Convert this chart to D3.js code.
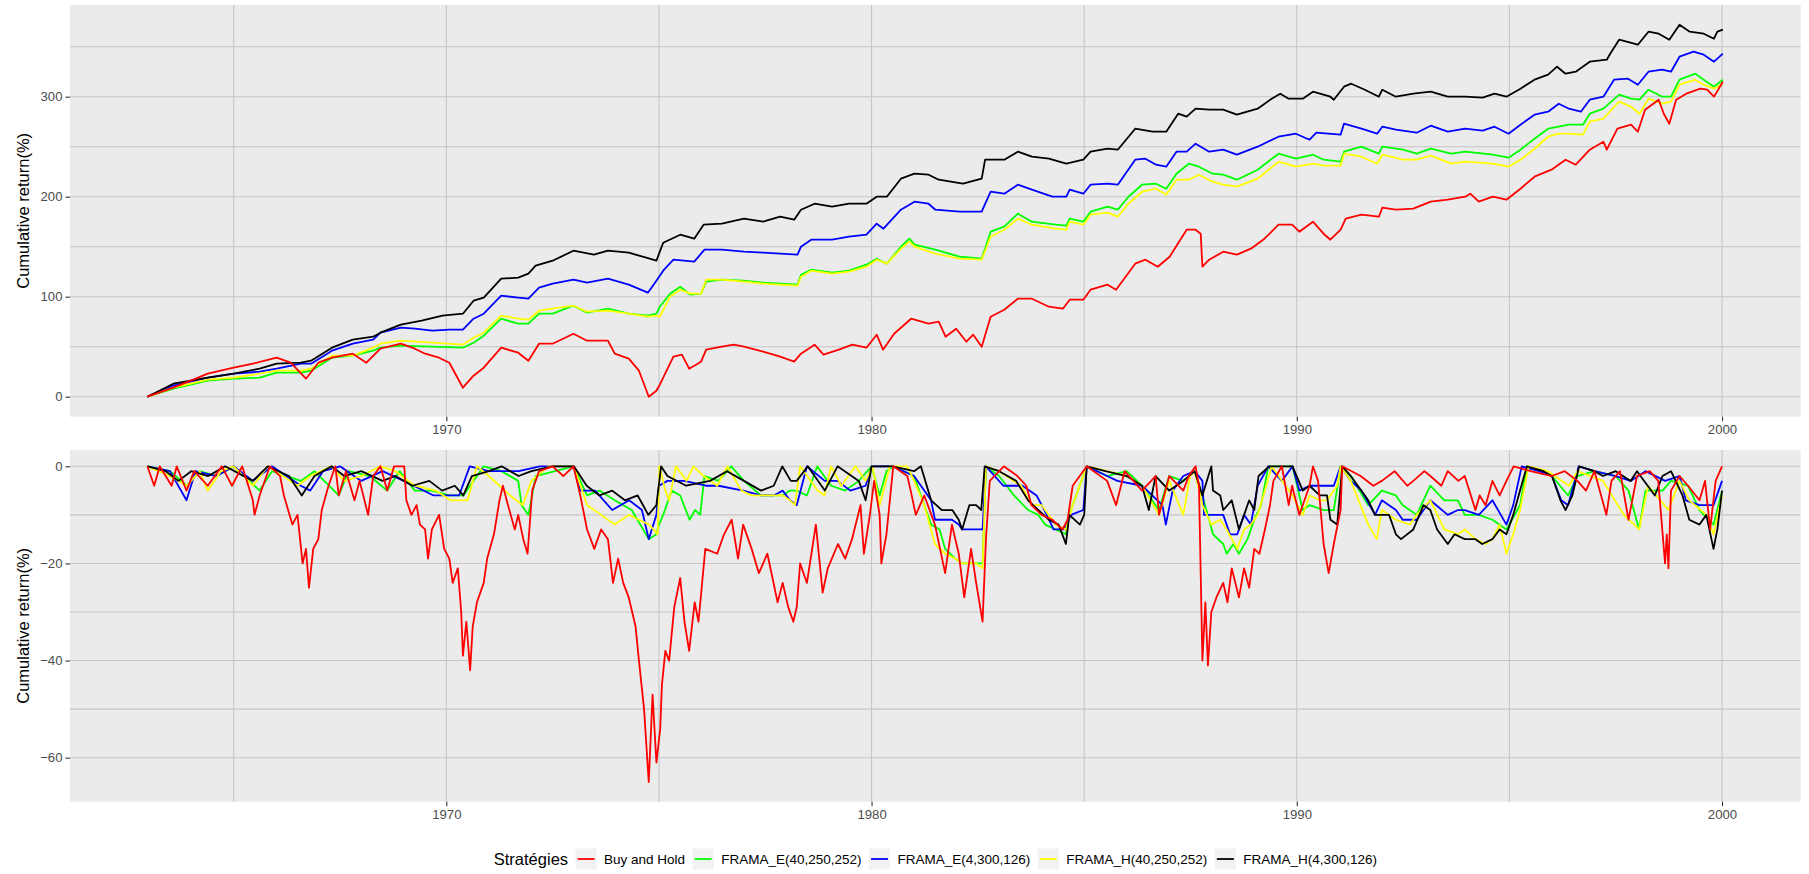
<!DOCTYPE html>
<html>
<head>
<meta charset="utf-8">
<script src="https://cdn.jsdelivr.net/npm/d3@7"></script>
<style>
body { margin: 0; background: #fff; }
svg { display: block; font-family: "Liberation Sans", Arial, Helvetica, sans-serif; }
</style>
</head>
<body>
<script>
// strategies, in legend order
var strategies = ["Buy and Hold", "FRAMA_E(40,250,252)", "FRAMA_E(4,300,126)", "FRAMA_H(40,250,252)", "FRAMA_H(4,300,126)"];
var colors = ["#ff0000", "#00ff00", "#0000ff", "#ffff00", "#000000"];

// axis ticks
var yearMajor = [1970, 1980, 1990, 2000];
var yearMinor = [1965, 1975, 1985, 1995];
var cumMajor = [0, 100, 200, 300];
var cumMinor = [50, 150, 250, 350];
var ddMajor = [-60, -40, -20, 0];
var ddMinor = [-50, -30, -10];

// cumulative return (%), [year, value]
var cumBH = [[1962.97,0],[1963.58,9],[1963.99,16],[1964.39,23],[1965.0,29],[1965.45,33],[1966.01,39],[1966.34,34],[1966.7,18],[1966.99,34],[1967.31,39],[1967.8,43],[1968.12,34],[1968.45,48],[1968.93,53],[1969.26,48],[1969.5,43],[1969.83,39],[1970.07,34],[1970.39,9],[1970.64,21],[1970.88,29],[1971.29,49],[1971.69,44],[1971.93,36],[1972.18,53],[1972.5,53],[1972.99,63],[1973.31,56],[1973.8,56],[1973.96,43],[1974.29,38],[1974.53,26],[1974.76,0],[1974.94,6],[1975.02,12],[1975.34,40],[1975.54,42],[1975.71,28],[1975.99,35],[1976.11,47],[1976.48,50],[1976.76,52],[1977.0,50],[1977.45,45],[1977.85,40],[1978.18,35],[1978.34,43],[1978.66,52],[1978.87,42],[1979.23,47],[1979.55,52],[1979.88,49],[1980.12,62],[1980.27,47],[1980.53,63],[1980.93,78],[1981.34,73],[1981.58,75],[1981.74,60],[1981.99,68],[1982.23,55],[1982.39,62],[1982.59,50],[1982.8,80],[1983.12,87],[1983.44,98],[1983.77,98],[1984.17,90],[1984.5,88],[1984.66,97],[1984.98,97],[1985.15,107],[1985.55,112],[1985.75,107],[1986.2,133],[1986.44,137],[1986.73,130],[1987.01,140],[1987.41,167],[1987.62,167],[1987.74,163],[1987.78,130],[1987.94,137],[1988.27,145],[1988.59,142],[1988.92,148],[1989.24,158],[1989.57,172],[1989.89,172],[1990.06,165],[1990.38,175],[1990.63,163],[1990.79,157],[1991.03,167],[1991.15,178],[1991.52,182],[1991.93,180],[1992.01,189],[1992.33,187],[1992.74,188],[1993.15,195],[1993.55,197],[1993.96,200],[1994.08,203],[1994.28,195],[1994.61,200],[1994.93,197],[1995.26,208],[1995.59,220],[1995.99,227],[1996.32,237],[1996.56,232],[1996.89,247],[1997.21,255],[1997.29,247],[1997.54,268],[1997.86,272],[1998.02,265],[1998.19,287],[1998.51,297],[1998.63,283],[1998.76,273],[1998.92,297],[1999.16,303],[1999.49,308],[1999.65,307],[1999.81,300],[2000.02,315]];
var cumE40 = [[1962.97,0],[1963.58,8],[1964.39,16],[1965.0,18],[1965.61,19],[1966.01,24],[1966.58,24],[1966.82,26],[1967.31,39],[1967.8,41],[1968.28,46],[1968.45,49],[1968.93,51],[1969.67,50],[1970.39,49],[1970.64,54],[1970.88,61],[1971.29,78],[1971.69,73],[1971.93,73],[1972.18,83],[1972.5,83],[1972.99,91],[1973.31,84],[1973.8,88],[1974.29,83],[1974.74,81],[1974.94,83],[1975.02,90],[1975.26,103],[1975.5,110],[1975.74,102],[1975.99,103],[1976.11,115],[1976.48,117],[1977.0,116],[1977.45,114],[1978.26,112],[1978.34,122],[1978.58,127],[1979.07,124],[1979.47,126],[1979.88,132],[1980.12,138],[1980.36,133],[1980.69,150],[1980.89,158],[1981.01,152],[1981.5,147],[1982.07,140],[1982.59,138],[1982.8,165],[1983.12,170],[1983.44,183],[1983.77,175],[1984.33,172],[1984.58,171],[1984.66,178],[1984.98,175],[1985.15,185],[1985.55,190],[1985.79,187],[1986.04,200],[1986.36,212],[1986.69,213],[1986.93,208],[1987.17,223],[1987.46,233],[1987.7,230],[1988.02,223],[1988.27,222],[1988.59,217],[1989.08,227],[1989.57,243],[1989.98,238],[1990.38,242],[1990.63,237],[1991.03,235],[1991.11,245],[1991.52,250],[1991.93,243],[1992.01,250],[1992.5,247],[1992.82,243],[1993.15,248],[1993.63,243],[1993.96,245],[1994.61,242],[1994.98,239],[1995.26,247],[1995.59,258],[1995.91,268],[1996.16,270],[1996.4,272],[1996.73,272],[1996.89,283],[1997.21,288],[1997.58,302],[1997.86,298],[1998.06,297],[1998.27,307],[1998.59,300],[1998.8,300],[1999.0,317],[1999.37,323],[1999.57,317],[1999.81,310],[2000.02,317]];
var cumE4 = [[1962.97,0],[1963.58,11],[1964.39,19],[1965.0,23],[1965.61,25],[1966.01,28],[1966.58,33],[1966.82,33],[1967.31,46],[1967.8,53],[1968.28,57],[1968.45,64],[1968.93,69],[1969.26,68],[1969.67,66],[1970.07,67],[1970.39,67],[1970.64,78],[1970.88,83],[1971.29,101],[1971.69,99],[1971.93,98],[1972.18,109],[1972.5,113],[1972.99,117],[1973.31,114],[1973.8,118],[1974.29,112],[1974.74,104],[1974.94,116],[1975.1,126],[1975.34,137],[1975.83,135],[1976.07,147],[1976.48,147],[1977.0,145],[1977.45,144],[1977.85,143],[1978.26,142],[1978.34,150],[1978.58,157],[1979.07,157],[1979.47,160],[1979.88,162],[1980.12,173],[1980.28,168],[1980.69,187],[1981.01,195],[1981.34,193],[1981.5,187],[1982.07,185],[1982.59,185],[1982.8,205],[1983.12,203],[1983.44,212],[1983.77,207],[1984.25,200],[1984.58,200],[1984.66,207],[1984.98,203],[1985.15,212],[1985.55,213],[1985.79,212],[1986.2,237],[1986.44,238],[1986.69,232],[1986.93,230],[1987.17,245],[1987.41,245],[1987.62,253],[1987.94,245],[1988.27,247],[1988.59,242],[1989.08,250],[1989.57,260],[1989.98,263],[1990.3,257],[1990.46,264],[1991.03,262],[1991.11,273],[1991.52,268],[1991.89,263],[1992.01,270],[1992.33,267],[1992.82,264],[1993.15,271],[1993.55,265],[1993.96,268],[1994.37,266],[1994.65,270],[1994.98,263],[1995.26,272],[1995.59,282],[1995.91,285],[1996.16,293],[1996.4,288],[1996.68,285],[1996.89,297],[1997.21,300],[1997.46,317],[1997.79,318],[1998.02,312],[1998.27,325],[1998.59,327],[1998.8,325],[1999.0,340],[1999.33,345],[1999.57,342],[1999.81,335],[2000.02,343]];
var cumH40 = [[1962.97,0],[1963.58,9],[1964.39,17],[1965.0,19],[1965.61,23],[1966.01,26],[1966.58,26],[1966.82,28],[1967.31,41],[1967.8,41],[1968.28,49],[1968.45,53],[1968.93,56],[1969.67,54],[1970.39,52],[1970.64,59],[1970.88,64],[1971.29,81],[1971.69,78],[1971.93,77],[1972.18,86],[1972.5,88],[1972.99,91],[1973.31,85],[1973.8,86],[1974.29,83],[1974.74,80],[1974.94,81],[1975.02,80],[1975.26,100],[1975.5,107],[1975.74,103],[1975.99,103],[1976.11,117],[1976.48,117],[1977.0,115],[1977.45,113],[1978.26,111],[1978.34,120],[1978.58,126],[1979.07,123],[1979.47,125],[1979.88,130],[1980.12,137],[1980.36,133],[1980.69,148],[1980.89,155],[1981.01,150],[1981.5,143],[1982.07,138],[1982.59,137],[1982.8,160],[1983.12,167],[1983.44,178],[1983.77,172],[1984.33,168],[1984.58,167],[1984.66,175],[1984.98,172],[1985.15,182],[1985.55,184],[1985.79,180],[1986.04,193],[1986.36,205],[1986.69,208],[1986.93,202],[1987.17,217],[1987.46,217],[1987.7,222],[1988.02,215],[1988.27,212],[1988.59,210],[1989.08,218],[1989.57,235],[1989.98,230],[1990.38,233],[1990.63,231],[1991.03,231],[1991.11,243],[1991.52,240],[1991.89,233],[1992.01,242],[1992.5,237],[1992.82,237],[1993.15,241],[1993.63,233],[1993.96,235],[1994.61,233],[1994.98,230],[1995.26,237],[1995.59,248],[1995.91,260],[1996.16,263],[1996.4,263],[1996.73,262],[1996.89,275],[1997.21,278],[1997.58,295],[1997.86,290],[1998.06,283],[1998.27,298],[1998.59,293],[1998.8,295],[1999.0,312],[1999.37,317],[1999.57,312],[1999.81,308],[2000.02,313]];
var cumH4 = [[1962.97,0],[1963.58,13],[1964.39,19],[1965.0,23],[1965.61,28],[1966.01,33],[1966.58,34],[1966.82,36],[1967.31,49],[1967.8,57],[1968.28,60],[1968.45,64],[1968.93,72],[1969.42,76],[1969.91,81],[1970.39,83],[1970.64,96],[1970.88,99],[1971.29,118],[1971.69,119],[1971.93,123],[1972.1,131],[1972.5,136],[1972.99,146],[1973.47,142],[1973.8,146],[1974.29,144],[1974.7,139],[1974.94,136],[1975.1,154],[1975.5,162],[1975.83,158],[1976.05,172],[1976.48,173],[1977.0,178],[1977.45,175],[1977.85,180],[1978.18,177],[1978.34,187],[1978.66,193],[1979.07,190],[1979.47,193],[1979.88,193],[1980.12,200],[1980.36,200],[1980.69,218],[1981.01,223],[1981.34,222],[1981.58,217],[1982.15,213],[1982.59,218],[1982.67,237],[1983.12,237],[1983.44,245],[1983.77,240],[1984.17,238],[1984.58,233],[1984.98,237],[1985.15,245],[1985.55,248],[1985.79,247],[1986.2,268],[1986.61,265],[1986.93,265],[1987.21,283],[1987.41,280],[1987.62,288],[1987.94,287],[1988.27,287],[1988.59,282],[1989.08,288],[1989.41,298],[1989.61,303],[1989.81,298],[1990.14,298],[1990.38,305],[1990.79,300],[1990.87,297],[1991.11,310],[1991.28,313],[1991.6,307],[1991.93,300],[1992.01,307],[1992.33,300],[1992.74,303],[1993.15,305],[1993.55,300],[1993.96,300],[1994.37,299],[1994.65,303],[1994.93,300],[1995.26,308],[1995.59,317],[1995.91,322],[1996.12,330],[1996.32,323],[1996.56,325],[1996.89,335],[1997.29,337],[1997.37,343],[1997.58,357],[1998.02,352],[1998.27,365],[1998.51,363],[1998.76,357],[1999.0,372],[1999.24,365],[1999.57,363],[1999.81,358],[1999.89,365],[2000.02,367]];

// drawdown (%), [year, value]
var ddBH = [[1962.97,0],[1963.13,-4],[1963.26,0],[1963.54,-4],[1963.66,0],[1963.89,-5],[1964.07,-1],[1964.39,-4],[1964.72,0],[1964.96,-4],[1965.2,0],[1965.45,-7],[1965.49,-10],[1965.61,-6],[1965.85,0],[1966.09,-2],[1966.18,-6],[1966.38,-12],[1966.5,-10],[1966.62,-20],[1966.7,-17],[1966.77,-25],[1966.87,-17],[1966.99,-15],[1967.07,-9],[1967.23,-4],[1967.39,0],[1967.47,-6],[1967.64,-1],[1967.84,-7],[1967.96,-3],[1968.16,-10],[1968.28,-2],[1968.45,0],[1968.61,-5],[1968.77,0],[1969.01,0],[1969.06,-7],[1969.18,-10],[1969.3,-8],[1969.38,-12],[1969.5,-13],[1969.57,-19],[1969.66,-13],[1969.83,-10],[1969.95,-17],[1970.07,-19],[1970.15,-24],[1970.27,-21],[1970.35,-30],[1970.39,-39],[1970.47,-32],[1970.56,-42],[1970.62,-33],[1970.72,-28],[1970.88,-24],[1970.96,-19],[1971.12,-14],[1971.25,-7],[1971.33,-4],[1971.45,-8],[1971.61,-13],[1971.69,-10],[1971.81,-15],[1971.91,-18],[1972.02,-5],[1972.18,-1],[1972.5,0],[1972.75,-2],[1972.99,0],[1973.15,-6],[1973.31,-13],[1973.48,-17],[1973.64,-13],[1973.8,-15],[1973.92,-24],[1974.04,-19],[1974.16,-24],[1974.29,-27],[1974.45,-33],[1974.53,-40],[1974.65,-50],[1974.76,-65],[1974.85,-47],[1974.94,-61],[1975.03,-54],[1975.07,-45],[1975.15,-38],[1975.24,-40],[1975.36,-29],[1975.5,-23],[1975.6,-32],[1975.71,-38],[1975.84,-28],[1975.93,-32],[1976.09,-17],[1976.37,-18],[1976.53,-14],[1976.71,-11],[1976.86,-19],[1976.98,-12],[1977.18,-17],[1977.35,-22],[1977.55,-18],[1977.79,-28],[1977.91,-24],[1978.04,-29],[1978.16,-32],[1978.24,-29],[1978.32,-20],[1978.48,-24],[1978.69,-12],[1978.85,-26],[1978.97,-21],[1979.21,-16],[1979.38,-19],[1979.54,-15],[1979.74,-8],[1979.82,-18],[1979.96,-10],[1980.06,-3],[1980.19,-10],[1980.23,-20],[1980.35,-14],[1980.51,0],[1980.84,-2],[1980.92,-5],[1981.04,-10],[1981.24,-6],[1981.49,-12],[1981.73,-22],[1981.89,-12],[1982.05,-18],[1982.18,-27],[1982.34,-17],[1982.46,-24],[1982.61,-32],[1982.69,-15],[1982.78,-3],[1983.11,0],[1983.43,-2],[1983.64,-4],[1983.76,-8],[1984.0,-10],[1984.25,-11],[1984.49,-13],[1984.61,-11],[1984.73,-4],[1985.06,0],[1985.54,-3],[1985.75,-8],[1985.95,-1],[1986.36,-5],[1986.68,-2],[1986.76,-10],[1987.0,-2],[1987.33,-5],[1987.46,-2],[1987.62,0],[1987.7,-4],[1987.78,-40],[1987.85,-28],[1987.91,-41],[1987.99,-30],[1988.11,-27],[1988.27,-24],[1988.37,-28],[1988.47,-21],[1988.64,-27],[1988.76,-21],[1988.88,-25],[1989.0,-17],[1989.12,-18],[1989.25,-13],[1989.37,-8],[1989.45,-3],[1989.65,0],[1989.81,-8],[1989.89,-4],[1990.06,-10],[1990.3,-4],[1990.38,0],[1990.5,-3],[1990.63,-16],[1990.75,-22],[1990.87,-16],[1991.03,-9],[1991.07,0],[1991.5,-2],[1991.8,-4],[1992.0,-3],[1992.3,-1],[1992.6,-4],[1992.74,-3],[1993.0,-1],[1993.14,-2],[1993.4,-4],[1993.55,-1],[1993.8,-3],[1993.95,-2],[1994.2,-9],[1994.3,-6],[1994.44,-8],[1994.6,-3],[1994.77,-6],[1994.93,-3],[1995.1,0],[1995.5,-1],[1996.0,-2],[1996.3,-1],[1996.6,-3],[1996.8,-5],[1997.0,-1],[1997.28,-10],[1997.4,-3],[1997.6,-1],[1997.8,-11],[1998.0,-2],[1998.3,-1],[1998.5,-3],[1998.66,-20],[1998.7,-14],[1998.74,-21],[1998.8,-5],[1999.0,-2],[1999.2,-4],[1999.47,-7],[1999.6,-3],[1999.72,-13],[1999.85,-3],[2000.0,0]];
var ddE40 = [[1962.97,0],[1963.5,-1],[1963.9,-4],[1964.2,-1],[1964.6,-2],[1965.0,0],[1965.61,-5],[1965.9,-1],[1966.58,-3],[1966.9,-1],[1967.47,-6],[1967.7,-1],[1968.2,-2],[1968.61,-5],[1968.9,-1],[1969.26,-5],[1969.66,-5],[1970.07,-6],[1970.4,-6],[1970.88,0],[1971.3,-1],[1971.69,-3],[1971.77,-8],[1971.93,-10],[1972.1,-2],[1972.99,0],[1973.31,-6],[1973.6,-5],[1973.96,-7],[1974.36,-9],[1974.76,-15],[1974.94,-14],[1975.0,-12],[1975.1,-10],[1975.3,-5],[1975.5,-6],[1975.72,-11],[1975.85,-9],[1975.97,-10],[1976.07,-2],[1976.4,-3],[1976.7,0],[1977.0,-3],[1977.4,-6],[1977.91,-6],[1978.08,-5],[1978.24,-5],[1978.48,-6],[1978.72,0],[1979.05,-4],[1979.38,-5],[1979.7,-3],[1980.0,0],[1980.19,-6],[1980.35,-1],[1980.51,0],[1981.0,-2],[1981.4,-12],[1981.6,-13],[1981.73,-17],[1981.97,-19],[1982.13,-20],[1982.46,-20],[1982.61,-20],[1982.69,0],[1983.0,-2],[1983.35,-6],[1983.68,-9],[1983.92,-10],[1984.08,-12],[1984.33,-13],[1984.57,-14],[1984.65,-10],[1984.73,-8],[1985.06,0],[1985.54,-2],[1986.0,-1],[1986.36,-4],[1986.76,-9],[1987.0,-2],[1987.33,-3],[1987.6,-1],[1987.78,-6],[1988.03,-14],[1988.27,-16],[1988.35,-18],[1988.51,-16],[1988.64,-18],[1988.84,-15],[1989.0,-11],[1989.16,-8],[1989.33,0],[1989.9,0],[1990.14,-9],[1990.3,-8],[1990.63,-9],[1990.87,-9],[1991.03,0],[1991.27,-2],[1991.68,-8],[1992.0,-5],[1992.33,-6],[1992.49,-8],[1992.82,-10],[1993.14,-4],[1993.47,-7],[1993.79,-7],[1993.95,-10],[1994.28,-10],[1994.6,-11],[1994.93,-13],[1995.25,-8],[1995.41,0],[1995.8,-1],[1996.0,-2],[1996.38,-6],[1996.6,-2],[1997.0,-1],[1997.5,-2],[1997.8,-5],[1998.05,-13],[1998.2,-5],[1998.6,-5],[1998.8,-3],[1999.2,-4],[1999.47,-9],[1999.8,-12],[2000.0,-5]];
var ddE4 = [[1962.97,0],[1963.5,-1],[1963.89,-7],[1964.1,-1],[1964.6,-2],[1965.0,0],[1965.45,-3],[1965.9,0],[1966.58,-4],[1966.8,-5],[1967.1,-1],[1967.5,0],[1968.0,-3],[1968.5,-1],[1969.0,-3],[1969.7,-6],[1970.3,-6],[1970.55,0],[1971.0,-1],[1971.7,-1],[1972.2,0],[1973.0,0],[1973.15,-5],[1973.5,-5],[1973.9,-9],[1974.3,-7],[1974.6,-9],[1974.76,-15],[1974.94,-10],[1975.0,-4],[1975.2,-3],[1975.6,-3],[1976.1,-4],[1976.4,-4],[1976.98,-5],[1977.4,-6],[1977.7,-6],[1977.91,-5],[1978.08,-7],[1978.24,-8],[1978.48,0],[1978.9,-3],[1979.2,-3],[1979.5,-5],[1979.86,-4],[1980.0,0],[1980.5,0],[1981.0,-2],[1981.4,-7],[1981.49,-11],[1981.89,-11],[1982.05,-12],[1982.13,-13],[1982.3,-13],[1982.46,-13],[1982.61,-13],[1982.69,0],[1983.1,-4],[1983.55,-4],[1983.88,-6],[1984.12,-10],[1984.28,-13],[1984.53,-13],[1984.69,-10],[1984.98,-9],[1985.06,0],[1985.54,-2],[1985.78,-3],[1986.36,-4],[1986.84,-8],[1986.92,-12],[1987.08,-5],[1987.33,-2],[1987.6,-1],[1987.78,-3],[1987.82,-10],[1987.94,-10],[1988.11,-10],[1988.27,-10],[1988.43,-14],[1988.6,-14],[1988.76,-10],[1988.92,-12],[1989.08,-4],[1989.33,0],[1989.65,-3],[1989.9,0],[1990.06,-5],[1990.3,-4],[1990.63,-4],[1990.87,-4],[1991.03,0],[1991.27,-3],[1991.52,-5],[1991.84,-10],[1992.0,-7],[1992.33,-9],[1992.49,-11],[1992.82,-11],[1993.14,-7],[1993.55,-10],[1993.79,-9],[1993.95,-9],[1994.28,-10],[1994.6,-7],[1994.93,-12],[1995.09,-8],[1995.29,0],[1995.7,-1],[1996.0,-2],[1996.22,-7],[1996.38,-8],[1996.63,0],[1997.0,-1],[1997.5,-2],[1997.85,-3],[1998.2,-1],[1998.66,-3],[1999.0,-2],[1999.15,-7],[1999.47,-8],[1999.8,-8],[2000.0,-3]];
var ddH40 = [[1962.97,0],[1963.5,-2],[1963.9,-4],[1964.2,-1],[1964.39,-5],[1964.7,-1],[1965.0,0],[1965.45,-4],[1965.8,0],[1966.5,-4],[1966.8,-2],[1967.3,0],[1967.6,-3],[1968.0,-2],[1968.45,0],[1968.8,-1],[1969.26,-4],[1969.75,-5],[1970.1,-7],[1970.5,-7],[1970.72,0],[1971.0,-2],[1971.25,-4],[1971.5,-6],[1971.8,-8],[1972.0,-3],[1972.4,0],[1973.0,0],[1973.31,-8],[1973.64,-10],[1973.96,-12],[1974.29,-10],[1974.53,-11],[1974.77,-12],[1974.97,-14],[1975.01,0],[1975.15,-5],[1975.24,-7],[1975.4,0],[1975.65,-3],[1975.81,0],[1976.05,-2],[1976.37,-4],[1976.61,0],[1976.94,-5],[1977.18,-6],[1977.43,-6],[1977.75,-6],[1977.91,-6],[1978.08,-7],[1978.2,-8],[1978.32,0],[1978.57,-3],[1978.73,-5],[1978.89,-6],[1979.05,0],[1979.29,-4],[1979.62,0],[1979.86,-3],[1980.02,0],[1980.19,-8],[1980.43,0],[1980.84,0],[1981.0,-3],[1981.24,-8],[1981.49,-16],[1981.73,-18],[1981.97,-19],[1982.13,-20],[1982.46,-20],[1982.61,-21],[1982.69,0],[1983.0,-1],[1983.52,-4],[1983.76,-8],[1984.0,-8],[1984.33,-12],[1984.57,-13],[1984.73,-8],[1985.06,0],[1985.54,-1],[1986.0,-2],[1986.36,-4],[1986.76,-10],[1987.0,-3],[1987.33,-10],[1987.49,-2],[1987.6,-1],[1987.78,-8],[1987.99,-12],[1988.2,-11],[1988.35,-13],[1988.6,-17],[1988.76,-13],[1988.92,-12],[1989.08,-10],[1989.25,-5],[1989.41,0],[1989.9,-6],[1990.14,-10],[1990.3,-6],[1990.54,-7],[1990.71,-7],[1990.95,-4],[1991.03,0],[1991.27,-3],[1991.68,-12],[1991.88,-15],[1992.0,-9],[1992.33,-11],[1992.66,-12],[1992.82,-10],[1993.14,-7],[1993.47,-13],[1993.79,-14],[1993.95,-13],[1994.2,-15],[1994.44,-16],[1994.6,-15],[1994.77,-12],[1994.93,-18],[1995.09,-14],[1995.25,-9],[1995.45,0],[1995.9,-1],[1996.4,-4],[1996.6,-1],[1997.2,-3],[1997.69,-10],[1998.05,-13],[1998.26,-4],[1998.74,-9],[1999.0,-3],[1999.23,-7],[1999.63,-10],[1999.8,-14],[2000.0,-6]];
var ddH4 = [[1962.97,0],[1963.4,-1],[1963.7,-3],[1964.0,-1],[1964.4,-2],[1964.8,0],[1965.45,-3],[1965.8,0],[1966.3,-2],[1966.6,-6],[1966.9,-2],[1967.3,0],[1967.6,-2],[1968.0,-1],[1968.5,-3],[1968.8,-2],[1969.2,-4],[1969.6,-3],[1969.9,-5],[1970.2,-4],[1970.4,-6],[1970.6,-2],[1971.0,-1],[1971.3,0],[1971.7,-2],[1972.0,-1],[1972.5,0],[1973.0,0],[1973.3,-4],[1973.6,-6],[1973.9,-5],[1974.2,-7],[1974.5,-6],[1974.75,-10],[1974.94,-8],[1975.05,0],[1975.2,-2],[1975.64,-4],[1976.2,-3],[1976.6,-1],[1977.0,-3],[1977.4,-5],[1977.7,-4],[1977.9,0],[1978.1,-3],[1978.24,-3],[1978.5,0],[1978.9,-5],[1979.2,0],[1979.7,-3],[1979.86,-7],[1980.0,0],[1980.5,0],[1981.0,-1],[1981.16,0],[1981.4,-7],[1981.65,-9],[1981.9,-9],[1982.05,-11],[1982.13,-13],[1982.3,-8],[1982.46,-8],[1982.58,-9],[1982.66,0],[1983.0,-1],[1983.4,-3],[1983.68,-7],[1983.92,-9],[1984.17,-11],[1984.4,-12],[1984.57,-16],[1984.65,-10],[1984.9,-12],[1985.0,-10],[1985.06,0],[1985.5,-1],[1986.0,-2],[1986.36,-4],[1986.52,-9],[1986.68,-2],[1987.0,-5],[1987.33,-3],[1987.6,-1],[1987.78,-6],[1987.99,0],[1988.03,-5],[1988.2,-6],[1988.27,-9],[1988.47,-7],[1988.64,-13],[1988.76,-10],[1988.88,-7],[1989.0,-9],[1989.1,-2],[1989.35,0],[1989.9,0],[1990.14,-5],[1990.3,-4],[1990.54,-6],[1990.71,-6],[1990.79,-11],[1990.95,-12],[1991.07,0],[1991.27,-2],[1991.68,-7],[1991.84,-10],[1992.17,-10],[1992.33,-14],[1992.45,-15],[1992.74,-13],[1992.98,-8],[1993.14,-9],[1993.3,-13],[1993.55,-16],[1993.71,-14],[1993.95,-15],[1994.2,-15],[1994.36,-16],[1994.6,-15],[1994.77,-13],[1994.93,-14],[1995.09,-10],[1995.25,-5],[1995.41,0],[1995.8,-1],[1996.0,-2],[1996.2,-7],[1996.32,-9],[1996.48,-6],[1996.64,0],[1997.0,-1],[1997.2,-2],[1997.5,-1],[1997.85,-3],[1998.0,-1],[1998.42,-6],[1998.6,-2],[1998.8,-1],[1999.07,-6],[1999.23,-11],[1999.47,-12],[1999.63,-10],[1999.8,-17],[1999.89,-13],[2000.0,-5]];

var cumSeries = [cumBH, cumE40, cumE4, cumH40, cumH4];
var ddSeries = [ddBH, ddE40, ddE4, ddH40, ddH4];

// drawing order: red ends up on top
var drawOrder = [1, 2, 3, 4, 0];

window.onload = function() {
	makeChart();
};

function makeChart() {
	var width = 1809, height = 874;
	var left = 70, right = 1800.7;

	var svg = d3.select("body").append("svg")
		.attr("width", width)
		.attr("height", height);

	var x = d3.scaleLinear().domain([1961.15, 2001.85]).range([left, right]);

	// top panel: cumulative return
	var yTop = d3.scaleLinear().domain([-20, 391.7]).range([416.7, 5]);
	drawPanel(svg, x, yTop, cumMajor, cumMinor, cumSeries, 5, 416.7);

	// bottom panel: drawdown
	var yBot = d3.scaleLinear().domain([-69.06, 3.36]).range([801.7, 450]);
	drawPanel(svg, x, yBot, ddMajor, ddMinor, ddSeries, 450, 801.7);

	drawLegend(svg, (left + right) / 2, 859);
}

function drawPanel(svg, x, y, yMajor, yMinor, series, top, bottom) {
	var g = svg.append("g");

	// background
	g.append("rect")
		.attr("x", x.range()[0])
		.attr("y", top)
		.attr("width", x.range()[1] - x.range()[0])
		.attr("height", bottom - top)
		.attr("fill", "#ebebeb");

	// grid lines
	var gridColor = "#c6c6c6";
	g.selectAll(".hgrid")
		.data(yMinor.concat(yMajor))
		.enter().append("line")
		.attr("x1", x.range()[0]).attr("x2", x.range()[1])
		.attr("y1", function(d) { return y(d); })
		.attr("y2", function(d) { return y(d); })
		.attr("stroke", gridColor)
		.attr("stroke-width", 1.1);

	g.selectAll(".vgrid")
		.data(yearMinor.concat(yearMajor))
		.enter().append("line")
		.attr("x1", function(d) { return x(d); })
		.attr("x2", function(d) { return x(d); })
		.attr("y1", top).attr("y2", bottom)
		.attr("stroke", gridColor)
		.attr("stroke-width", 1.1);

	// lines
	var line = d3.line()
		.x(function(d) { return x(d[0]); })
		.y(function(d) { return y(d[1]); });

	drawOrder.forEach(function(i) {
		g.append("path")
			.datum(series[i])
			.attr("d", line)
			.attr("fill", "none")
			.attr("stroke", colors[i])
			.attr("stroke-width", 1.8)
			.attr("stroke-linejoin", "round");
	});

	// axes
	var yAxis = svg.append("g")
		.attr("transform", "translate(" + x.range()[0] + ",0)")
		.call(d3.axisLeft(y).tickValues(yMajor).tickSize(4.5).tickPadding(3).tickFormat(d3.format("d")));

	var xAxis = svg.append("g")
		.attr("transform", "translate(0," + bottom + ")")
		.call(d3.axisBottom(x).tickValues(yearMajor).tickSize(4.5).tickPadding(3).tickFormat(d3.format("d")));

	[yAxis, xAxis].forEach(function(a) {
		a.select(".domain").remove();
		a.selectAll(".tick line").attr("stroke", "#333333").attr("stroke-width", 1.1);
		a.selectAll(".tick text")
			.attr("fill", "#4d4d4d")
			.style("font-size", "13.2px")
			.style("font-family", "'Liberation Sans', Arial, sans-serif");
	});

	// y axis title
	svg.append("text")
		.attr("transform", "translate(29," + ((top + bottom) / 2) + ") rotate(-90)")
		.style("text-anchor", "middle")
		.style("font-size", "16.5px")
		.attr("fill", "#000")
		.text("Cumulative return(%)");
}

function drawLegend(svg, center, cy) {
	var lg = svg.append("g");
	var keySize = 21;
	var gap = 7.5;

	var title = lg.append("text")
		.attr("x", 0)
		.attr("y", cy)
		.attr("dy", "0.35em")
		.style("font-size", "16.5px")
		.attr("fill", "#000")
		.text("Stratégies");

	var pos = title.node().getComputedTextLength() + gap;

	strategies.forEach(function(name, i) {
		lg.append("rect")
			.attr("x", pos)
			.attr("y", cy - keySize / 2)
			.attr("width", keySize)
			.attr("height", keySize)
			.attr("fill", "#f2f2f2");
		lg.append("line")
			.attr("x1", pos + 2).attr("x2", pos + keySize - 2)
			.attr("y1", cy).attr("y2", cy)
			.attr("stroke", colors[i])
			.attr("stroke-width", 1.8);
		pos += keySize + gap;
		var t = lg.append("text")
			.attr("x", pos)
			.attr("y", cy)
			.attr("dy", "0.35em")
			.style("font-size", "13.5px")
			.attr("fill", "#000")
			.text(name);
		pos += t.node().getComputedTextLength() + (i < strategies.length - 1 ? gap : 0);
	});

	lg.attr("transform", "translate(" + (center - pos / 2) + ",0)");
}
</script>
</body>
</html>
